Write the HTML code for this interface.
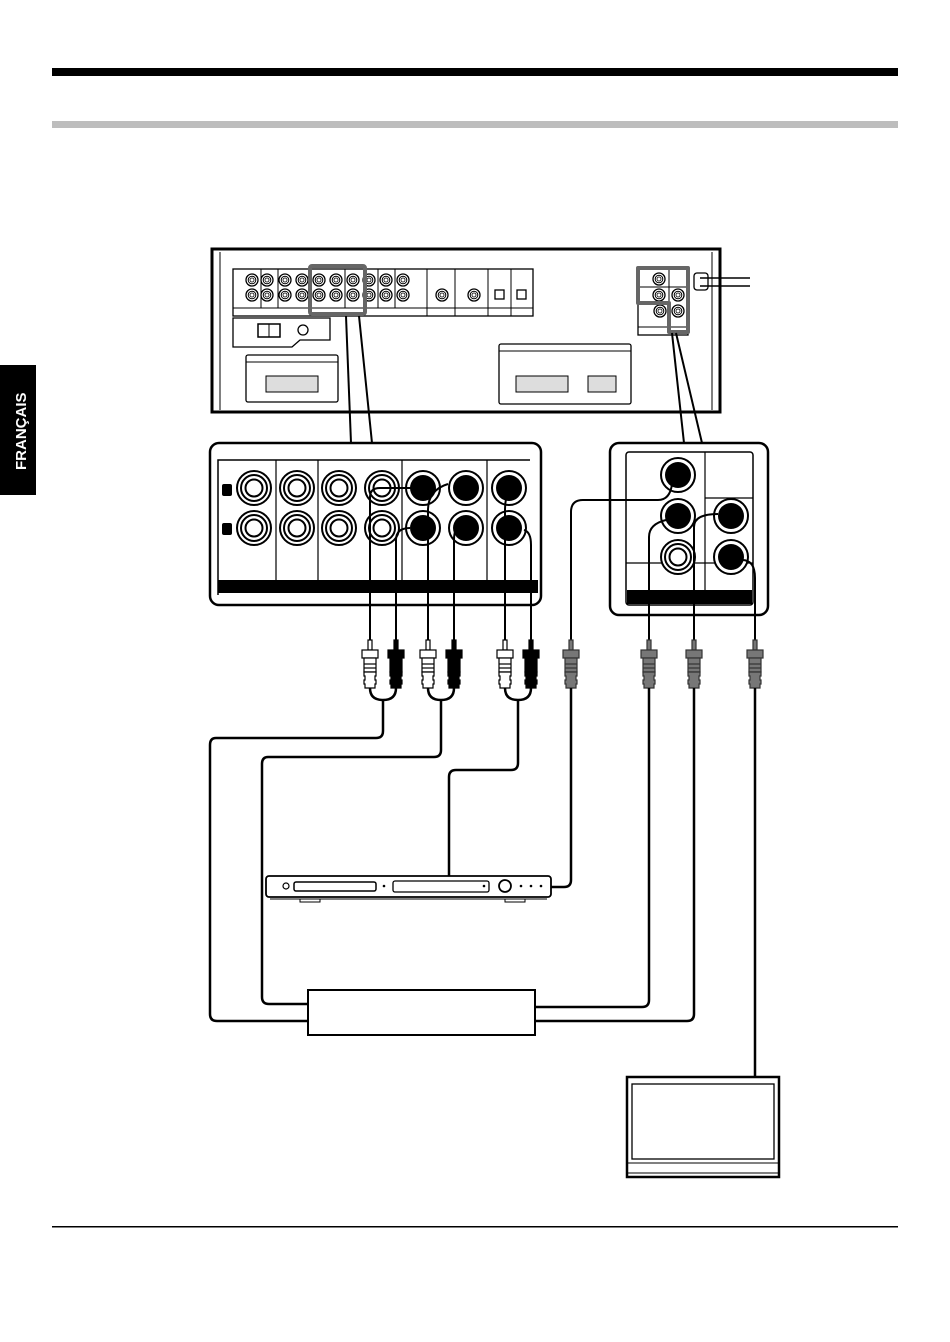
<!DOCTYPE html>
<html><head><meta charset="utf-8"><style>
html,body{margin:0;padding:0;background:#fff;width:950px;height:1342px;overflow:hidden}
svg{display:block}
</style></head><body>
<svg width="950" height="1342" viewBox="0 0 950 1342" xmlns="http://www.w3.org/2000/svg">
<defs>
<g id="jw"><circle r="6" fill="#fff" stroke="#000" stroke-width="1.3"/><circle r="3.8" fill="none" stroke="#000" stroke-width="1"/><circle r="2" fill="#fff" stroke="#000" stroke-width="0.8"/></g>
<g id="bw"><circle r="17" fill="#fff" stroke="#000" stroke-width="2"/><circle r="13" fill="none" stroke="#000" stroke-width="2"/><circle r="8.5" fill="#fff" stroke="#000" stroke-width="2"/></g>
<g id="bb"><circle r="17" fill="#fff" stroke="#000" stroke-width="2"/><circle r="13" fill="#000"/></g>
<g id="plug" stroke-width="1.2">
<rect x="-2" y="0" width="4" height="10"/>
<rect x="-8" y="10" width="16" height="8"/>
<rect x="-6" y="18" width="12" height="14"/>
<path d="M-6 32 h12 v4 h-1 v4 h1 v4 h-1 v4 h-10 v-4 h-1 v-4 h1 v-4 h-1 z"/>
<line x1="-6" y1="24" x2="6" y2="24"/><line x1="-6" y1="28" x2="6" y2="28"/>
</g>
</defs>

<!-- header bars -->
<rect x="52" y="68" width="846" height="8" fill="#000"/>
<rect x="52" y="121" width="846" height="7" fill="#bdbdbd"/>
<rect x="52" y="1226" width="846" height="1.5" fill="#000"/>

<!-- language tab -->
<rect x="0" y="365" width="36" height="130" fill="#000"/>
<text transform="translate(26,470) rotate(-90)" font-family="Liberation Sans, sans-serif" font-weight="bold" font-size="15" fill="#fff">FRANÇAIS</text>

<!-- receiver -->
<g fill="none" stroke="#000">
<rect x="212" y="249" width="508" height="163" stroke-width="3"/>
<line x1="712" y1="252" x2="712" y2="410" stroke-width="1"/>
<line x1="220" y1="252" x2="220" y2="410" stroke-width="1"/>
<rect x="233" y="269" width="300" height="47" stroke-width="1.3"/>
<line x1="233" y1="308" x2="533" y2="308" stroke-width="1"/>
<g stroke-width="1">
<line x1="261" y1="269" x2="261" y2="308"/><line x1="278" y1="269" x2="278" y2="308"/>
<line x1="345" y1="269" x2="345" y2="308"/><line x1="378" y1="269" x2="378" y2="308"/>
<line x1="395" y1="269" x2="395" y2="308"/><line x1="427" y1="269" x2="427" y2="316"/>
<line x1="455" y1="269" x2="455" y2="316"/><line x1="488" y1="269" x2="488" y2="316"/>
<line x1="511" y1="269" x2="511" y2="316"/>
</g>
<path d="M233 318 H330 V340 H300 L292 347 H233 Z" stroke-width="1.3"/>
<rect x="258" y="324" width="22" height="13" stroke-width="1.5"/>
<line x1="269" y1="324" x2="269" y2="337"/>
<circle cx="303" cy="330" r="5" stroke-width="1.3"/>
<rect x="246" y="355" width="92" height="47" rx="2" stroke-width="1.3"/>
<line x1="246" y1="362" x2="338" y2="362" stroke-width="1"/>
<rect x="266" y="376" width="52" height="16" fill="#ddd" stroke-width="1"/>
<rect x="499" y="344" width="132" height="60" rx="2" stroke-width="1.3"/>
<line x1="499" y1="351" x2="631" y2="351" stroke-width="1"/>
<rect x="516" y="376" width="52" height="16" fill="#ddd" stroke-width="1"/>
<rect x="588" y="376" width="28" height="16" fill="#ddd" stroke-width="1"/>
<rect x="638" y="267" width="50" height="68" stroke-width="1.3"/>
<line x1="638" y1="327" x2="688" y2="327" stroke-width="1"/>
<line x1="638" y1="287" x2="688" y2="287" stroke-width="1"/>
<line x1="669" y1="267" x2="669" y2="327" stroke-width="1"/>
<rect x="694" y="273" width="14" height="17" rx="3" stroke-width="1.3"/>
<path d="M700 278 H750 M700 286 H750" stroke-width="1.5"/>
</g>
<g>
<use href="#jw" x="252" y="280"/><use href="#jw" x="267" y="280"/><use href="#jw" x="285" y="280"/><use href="#jw" x="302" y="280"/><use href="#jw" x="319" y="280"/><use href="#jw" x="336" y="280"/><use href="#jw" x="353" y="280"/><use href="#jw" x="369" y="280"/><use href="#jw" x="386" y="280"/><use href="#jw" x="403" y="280"/>
<use href="#jw" x="252" y="295"/><use href="#jw" x="267" y="295"/><use href="#jw" x="285" y="295"/><use href="#jw" x="302" y="295"/><use href="#jw" x="319" y="295"/><use href="#jw" x="336" y="295"/><use href="#jw" x="353" y="295"/><use href="#jw" x="369" y="295"/><use href="#jw" x="386" y="295"/><use href="#jw" x="403" y="295"/>
<use href="#jw" x="442" y="295"/><use href="#jw" x="474" y="295"/>
<use href="#jw" x="659" y="279"/><use href="#jw" x="659" y="295"/><use href="#jw" x="678" y="295"/><use href="#jw" x="660" y="311"/><use href="#jw" x="678" y="311"/>
</g>
<rect x="495" y="290" width="9" height="9" fill="#fff" stroke="#000" stroke-width="1.3"/>
<rect x="517" y="290" width="9" height="9" fill="#fff" stroke="#000" stroke-width="1.3"/>
<rect x="310" y="266" width="55" height="48" rx="2" fill="none" stroke="#666" stroke-width="4"/>
<path d="M638 268 H688 V332 H669 V303 H638 Z" fill="none" stroke="#666" stroke-width="4" stroke-linejoin="round"/>

<!-- zoom lines -->
<g stroke="#000" stroke-width="2" fill="none">
<line x1="346" y1="316" x2="351" y2="443"/><line x1="359" y1="316" x2="372" y2="443"/>
<line x1="672" y1="333" x2="684" y2="443"/><line x1="676" y1="333" x2="702" y2="443"/>
</g>

<!-- left enlarged panel -->
<rect x="210" y="443" width="331" height="162" rx="9" fill="#fff" stroke="#000" stroke-width="2.5"/>
<path d="M218 595 V460 H530" fill="none" stroke="#000" stroke-width="1.5"/>
<rect x="218" y="580" width="320" height="13" fill="#000"/>
<g stroke="#000" stroke-width="1.2"><line x1="276" y1="460" x2="276" y2="580"/><line x1="318" y1="460" x2="318" y2="580"/><line x1="402" y1="460" x2="402" y2="580"/><line x1="487" y1="460" x2="487" y2="580"/></g>
<rect x="222" y="484" width="10" height="12" rx="2" fill="#000"/>
<rect x="222" y="523" width="10" height="12" rx="2" fill="#000"/>
<use href="#bw" x="254" y="488"/><use href="#bw" x="297" y="488"/><use href="#bw" x="339" y="488"/><use href="#bw" x="382" y="488"/>
<use href="#bw" x="254" y="528"/><use href="#bw" x="297" y="528"/><use href="#bw" x="339" y="528"/><use href="#bw" x="382" y="528"/>
<use href="#bb" x="423" y="488"/><use href="#bb" x="466" y="488"/><use href="#bb" x="509" y="488"/>
<use href="#bb" x="423" y="528"/><use href="#bb" x="466" y="528"/><use href="#bb" x="509" y="528"/>

<!-- right enlarged panel -->
<rect x="610" y="443" width="158" height="172" rx="9" fill="#fff" stroke="#000" stroke-width="2.5"/>
<rect x="626" y="452" width="127" height="153" rx="3" fill="none" stroke="#000" stroke-width="1.5"/>
<rect x="627" y="590" width="125" height="14" fill="#000"/>
<g stroke="#000" stroke-width="1.2"><line x1="705" y1="452" x2="705" y2="590"/><line x1="626" y1="563" x2="753" y2="563"/><line x1="705" y1="498" x2="753" y2="498"/></g>
<use href="#bb" x="678" y="475"/><use href="#bb" x="678" y="516"/><use href="#bb" x="731" y="516"/><use href="#bw" x="678" y="557"/><use href="#bb" x="731" y="557"/>

<!-- cables up to jacks -->
<g stroke="#000" stroke-width="2" fill="none">
<path d="M370 640 V497 Q370 488 380 488 H423"/>
<path d="M396 640 V540 Q396 528 410 528"/>
<path d="M428 640 V510 Q428 490 448 484"/>
<path d="M454 640 V540 Q454 528 460 526"/>
<path d="M505 640 V510 Q505 494 512 486"/>
<path d="M531 640 V545 Q531 532 524 530"/>
<path d="M571 640 V512 Q571 500 583 500 H658 Q670 500 672 484"/>
<path d="M649 640 V537 Q649 524 666 520"/>
<path d="M694 640 V527 Q694 514 718 514"/>
<path d="M755 640 V578 Q755 560 742 560"/>
</g>

<!-- plugs -->
<g fill="#fff" stroke="#000"><use href="#plug" x="370" y="640"/><use href="#plug" x="428" y="640"/><use href="#plug" x="505" y="640"/></g>
<g fill="#000" stroke="#000"><use href="#plug" x="396" y="640"/><use href="#plug" x="454" y="640"/><use href="#plug" x="531" y="640"/></g>
<g fill="#777" stroke="#333"><use href="#plug" x="571" y="640"/><use href="#plug" x="649" y="640"/><use href="#plug" x="694" y="640"/><use href="#plug" x="755" y="640"/></g>

<!-- cable runs -->
<g stroke="#000" stroke-width="2.5" fill="none" stroke-linejoin="round">
<path d="M370 688 Q370 700 383 700 Q396 700 396 688"/>
<path d="M428 688 Q428 700 441 700 Q454 700 454 688"/>
<path d="M505 688 Q505 700 518 700 Q531 700 531 688"/>
<path d="M383 700 V731 Q383 738 376 738 H216 Q210 738 210 745 V1014 Q210 1021 217 1021 H308"/>
<path d="M441 700 V750 Q441 757 434 757 H268 Q262 757 262 764 V997 Q262 1004 269 1004 H308"/>
<path d="M518 700 V763 Q518 770 511 770 H456 Q449 770 449 777 V876"/>
<path d="M571 688 V880 Q571 887 564 887 H551"/>
<path d="M649 688 V1000 Q649 1007 642 1007 H535"/>
<path d="M694 688 V1014 Q694 1021 687 1021 H535"/>
<path d="M755 688 V1077"/>
</g>

<!-- DVD player -->
<g fill="none" stroke="#000">
<rect x="266" y="876" width="285" height="21" rx="3" fill="#fff" stroke-width="1.8"/>
<line x1="270" y1="899" x2="547" y2="899" stroke-width="1"/>
<rect x="294" y="882" width="82" height="9" rx="2" stroke-width="1.5"/>
<rect x="393" y="881" width="96" height="11" rx="2" stroke-width="1.3"/>
<circle cx="286" cy="886" r="3" stroke-width="1.2"/>
<circle cx="505" cy="886" r="6" stroke-width="1.8"/>
<path d="M300 899 v3 h20 v-3 M505 899 v3 h20 v-3" stroke-width="1"/>
</g>
<g fill="#000"><circle cx="384" cy="886" r="1.3"/><circle cx="484" cy="886" r="1.3"/><circle cx="521" cy="886" r="1.3"/><circle cx="531" cy="886" r="1.3"/><circle cx="541" cy="886" r="1.3"/></g>

<!-- VCR box -->
<rect x="308" y="990" width="227" height="45" fill="#fff" stroke="#000" stroke-width="2"/>

<!-- TV -->
<rect x="627" y="1077" width="152" height="100" fill="#fff" stroke="#000" stroke-width="2.5"/>
<rect x="632" y="1084" width="142" height="75" fill="none" stroke="#000" stroke-width="1.3"/>
<line x1="628" y1="1163" x2="778" y2="1163" stroke="#000" stroke-width="1"/>
<line x1="628" y1="1173" x2="778" y2="1173" stroke="#000" stroke-width="1"/>
</svg>
</body></html>
